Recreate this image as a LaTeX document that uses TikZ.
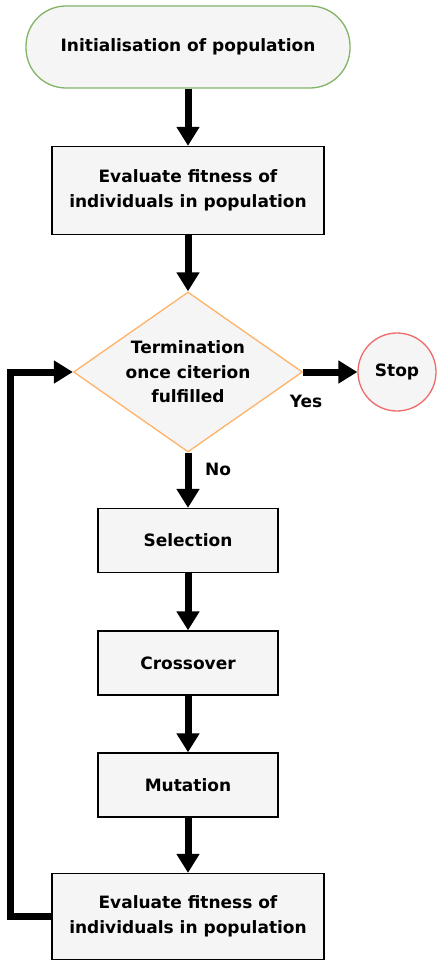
\documentclass[tikz,border=0pt]{standalone}
\usepackage{fontspec}
\setmainfont{DejaVu Sans}
\usetikzlibrary{shapes.geometric,arrows.meta,calc}

\definecolor{boxfill}{HTML}{F5F5F5}
\definecolor{startline}{HTML}{82B366}
\definecolor{testline}{HTML}{FFB366}
\definecolor{stopline}{HTML}{F06A6A}

\tikzset{
    box/.style={draw=black, fill=boxfill, line width=1.3pt, inner sep=0pt, align=center,
        font=\bfseries\fontsize{17}{24.5}\selectfont},
    tag/.style={inner sep=0pt, font=\bfseries\fontsize{17}{24.5}\selectfont},
    flow/.style={line width=7pt, -{Triangle[width=22pt,length=19pt]}},
}

\begin{document}
\begin{tikzpicture}[x=1pt,y=-1pt]
        \useasboundingbox (0,0) rectangle (437,960);
        \node[box, draw=startline, rounded corners=40pt, minimum width=324pt, minimum height=82pt]
            (init) at (188,47) {Initialisation of population};
        \node[box, minimum width=272pt, minimum height=88pt]
            (evalA) at (188,190.5) {Evaluate fitness of\\individuals in population};
        \node[box, diamond, draw=testline, aspect=1.43, minimum width=229pt, minimum height=160pt]
            (term) at (188,372) {Termination\\once citerion\\fulfilled};
        \node[box, circle, draw=stopline, minimum size=78pt] (stop) at (397,372) {Stop};
        \node[box, minimum width=180pt, minimum height=64pt] (sel) at (188,540.5) {Selection};
        \node[box, minimum width=180pt, minimum height=64pt] (cross) at (188,663) {Crossover};
        \node[box, minimum width=180pt, minimum height=64pt] (mut) at (188,785) {Mutation};
        \node[box, minimum width=272pt, minimum height=86pt]
            (evalB) at (188,916.5) {Evaluate fitness of\\individuals in population};
        \node[tag] (yes) at (306,401) {Yes};
        \node[tag] (no) at (218,469) {No};
        \coordinate (back) at (10.5,916.5);
        \draw[flow] (init) -- (evalA);
        \draw[flow] (evalA) -- (term);
        \draw[flow] (term.east) -- (stop);
        \draw[flow] (term) -- (sel);
        \draw[flow] (sel) -- (cross);
        \draw[flow] (cross) -- (mut);
        \draw[flow] (mut) -- (evalB);
        \draw[flow] (evalB.west) -- (back) |- (term.west);
    \end{tikzpicture}
\end{document}
